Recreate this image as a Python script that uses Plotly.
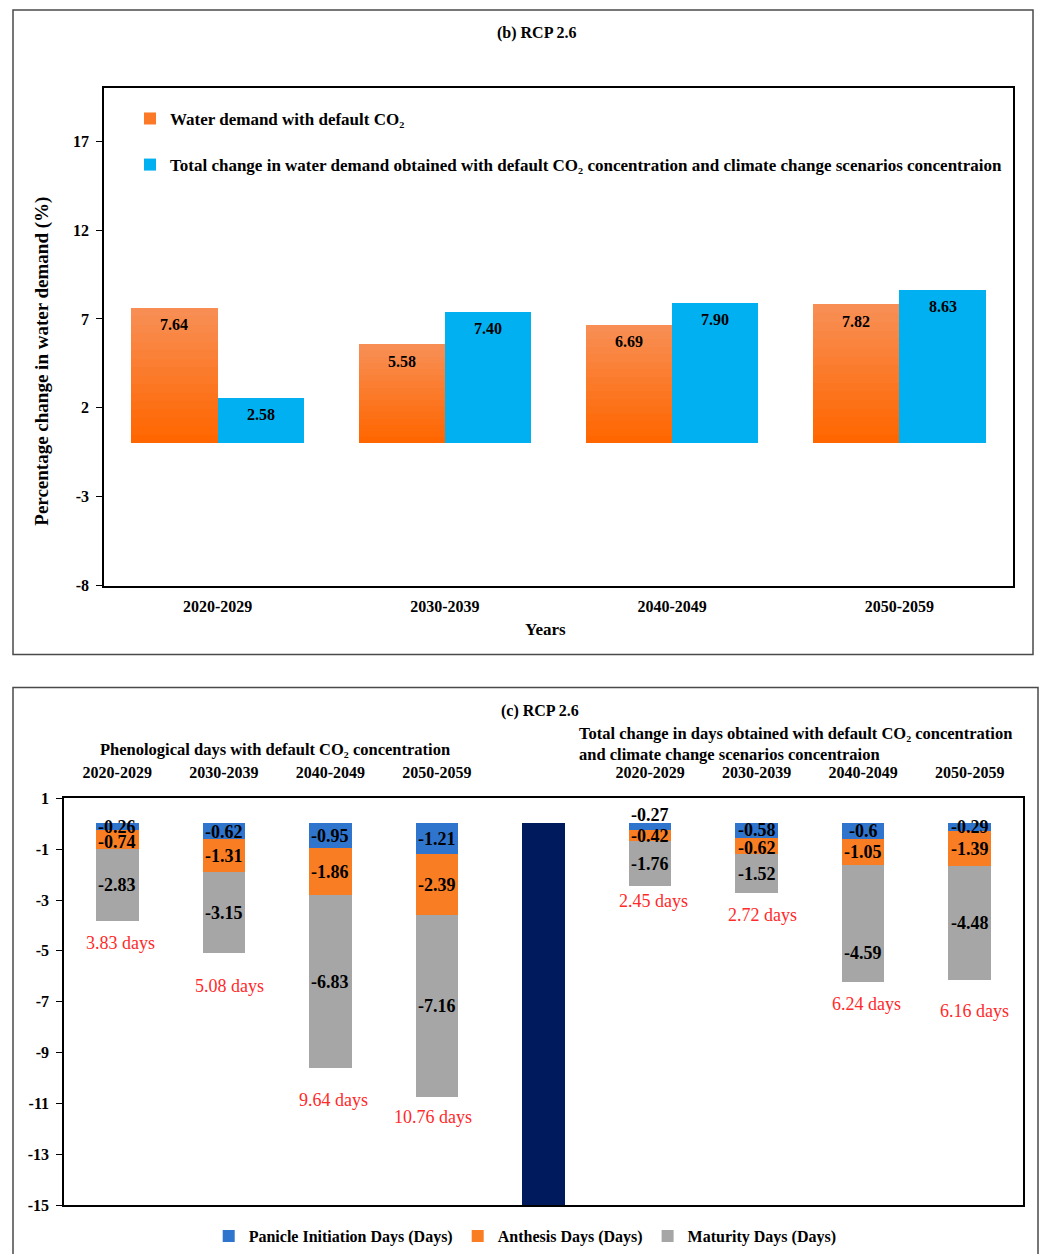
import numpy as np
import plotly.graph_objects as go

# ---------------- data ----------------
periods = ["2020-2029", "2030-2039", "2040-2049", "2050-2059"]

# (b) percentage change in water demand
water_default_co2 = [7.64, 5.58, 6.69, 7.82]
water_total_change = [2.58, 7.40, 7.90, 8.63]
water_ticks = [-8, -3, 2, 7, 12, 17]

# (c) change in phenological days, default CO2 concentration
pheno_panicle = [-0.26, -0.62, -0.95, -1.21]
pheno_anthesis = [-0.74, -1.31, -1.86, -2.39]
pheno_maturity = [-2.83, -3.15, -6.83, -7.16]
# (c) total change, default CO2 + scenario concentration
total_panicle = [-0.27, -0.58, -0.6, -0.29]
total_anthesis = [-0.42, -0.62, -1.05, -1.39]
total_maturity = [-1.76, -1.52, -4.59, -4.48]
separator_depth = -15
days_ticks = [1, -1, -3, -5, -7, -9, -11, -13, -15]

# ---------------- style ----------------
W, H = 1040, 1254
PAGE_TOP, PAGE_H = 8, 1238   # drawable page band in pixels
SERIF = "Liberation Serif"
BLACK = "#000000"
ORANGE_TOP = (248, 142, 84)
ORANGE_BOTTOM = (255, 102, 0)
SKY = "#00B0F0"
C_PANICLE = "#2F74CD"
C_ANTHESIS = "#F97E23"
C_MATURITY = "#A6A6A6"
C_SEPARATOR = "#001A5E"
RED = "#FF2A2A"


def px_x(p):
    return p / W


def px_y(p):
    return 1 - (p - PAGE_TOP) / PAGE_H


# plot areas (paper fractions)
top_dom_x = [px_x(104), px_x(1013)]
top_dom_y = [px_y(586), px_y(88)]
bot_dom_x = [px_x(64), px_x(1023)]
bot_dom_y = [px_y(1206), px_y(799)]

top_range = [-8, 20]
bot_range = [-15, 1]
BAR_W = 0.38

fig = go.Figure()

# ---------- panel (b): grouped bars, orange drawn as a vertical gradient ----------
xb = np.arange(len(periods))
n_steps = 16
for k in range(n_steps):
    t = k / (n_steps - 1)
    col = tuple(int(round(a + (b - a) * t)) for a, b in zip(ORANGE_TOP, ORANGE_BOTTOM))
    frac = 1 - k / n_steps
    fig.add_trace(go.Bar(
        x=xb, y=np.array(water_default_co2) * frac,
        offset=-BAR_W, width=BAR_W,
        marker=dict(color="rgb(%d,%d,%d)" % col, line=dict(width=0)),
        name="Water demand with default CO₂",
        showlegend=(k == n_steps // 2), legendgroup="g1",
        legend="legend", hoverinfo="skip",
        xaxis="x", yaxis="y",
    ))
fig.add_trace(go.Bar(
    x=xb, y=water_total_change, offset=0, width=BAR_W,
    marker=dict(color=SKY, line=dict(width=0)),
    name="Total change in water demand obtained with default CO₂ concentration and climate change scenarios concentraion",
    legendgroup="g2", legend="legend",
    xaxis="x", yaxis="y",
))

annotations = []
# value labels just below the top of each bar
for vals, shift in ((water_default_co2, -BAR_W / 2), (water_total_change, BAR_W / 2)):
    for x, v in zip(xb, vals):
        annotations.append(dict(
            x=x + shift, y=v, xref="x", yref="y", yanchor="middle",
            xanchor="center", yshift=-17, text=f"{v:.2f}", showarrow=False,
            font=dict(family=SERIF, size=16, color=BLACK, weight="bold"),
        ))

# ---------- panel (c): stacked negative bars ----------
xc_left = np.arange(4)
xc_right = np.arange(5, 9)
groups = [
    (xc_left, pheno_panicle, pheno_anthesis, pheno_maturity),
    (xc_right, total_panicle, total_anthesis, total_maturity),
]
seg_names = ["Panicle Initiation Days (Days)", "Anthesis Days (Days)", "Maturity Days (Days)"]
seg_colors = [C_PANICLE, C_ANTHESIS, C_MATURITY]

# per-label pixel nudges (group, segment, bar) -> yshift
label_nudge = {(0, 1, 0): -2, (1, 0, 0): 12, (1, 0, 1): 1, (1, 1, 1): -2,
               (1, 2, 2): -29}
# pixel placement of the red total labels under each bar
total_drop = [[22, 33, 31, 20], [15, 22, 22, 31]]
total_xshift = [[3, 6, 3, -4], [3, 6, 3, 5]]

for gi, (xs, pan, ant, mat) in enumerate(groups):
    segs = [np.array(pan), np.array(ant), np.array(mat)]
    base = np.zeros(len(xs))
    for si, seg in enumerate(segs):
        fig.add_trace(go.Bar(
            x=xs, y=seg, base=base.copy(), width=0.4,
            marker=dict(color=seg_colors[si], line=dict(width=0)),
            name=seg_names[si], legend="legend2", legendgroup=seg_names[si],
            showlegend=(gi == 0),
            xaxis="x2", yaxis="y2",
        ))
        for bi, (x, v, b0) in enumerate(zip(xs, seg, base)):
            annotations.append(dict(
                x=x, y=b0 + v / 2, xref="x2", yref="y2",
                xanchor="center", yanchor="middle",
                text=f"{v:g}", showarrow=False,
                yshift=label_nudge.get((gi, si, bi), 0),
                font=dict(family=SERIF, size=18, color=BLACK, weight="bold"),
            ))
        base = base + seg
    for bi, (x, tot) in enumerate(zip(xs, base)):
        annotations.append(dict(
            x=x, y=tot, xref="x2", yref="y2",
            xanchor="center", yanchor="middle",
            text=f"{-tot:.2f} days", showarrow=False,
            yshift=-total_drop[gi][bi], xshift=total_xshift[gi][bi],
            font=dict(family=SERIF, size=18, color=RED),
        ))

# dark separator between the two groups
fig.add_trace(go.Bar(
    x=[4], y=[separator_depth], width=0.4,
    marker=dict(color=C_SEPARATOR, line=dict(width=0)),
    showlegend=False, hoverinfo="skip",
    xaxis="x2", yaxis="y2",
))

# ---------------- axes ----------------
tick_font = dict(family=SERIF, size=16, color=BLACK, weight="bold")
axis_common = dict(showgrid=False, zeroline=False, showline=True,
                   linecolor=BLACK, linewidth=1.5, mirror=True)


def zero_pos(dom, rng):
    return dom[0] + (0 - rng[0]) / (rng[1] - rng[0]) * (dom[1] - dom[0])


fig.update_layout(
    xaxis=dict(domain=top_dom_x, range=[-0.5, 3.5], anchor="y",
               tickvals=list(xb), ticktext=periods, ticks="",
               tickfont=tick_font, ticklabelstandoff=6, **axis_common),
    yaxis=dict(domain=top_dom_y, range=top_range, anchor="x",
               tickvals=water_ticks, ticktext=[str(v) for v in water_ticks],
               ticks="outside", ticklen=6,
               tickcolor=BLACK, tickfont=tick_font, ticklabelstandoff=4,
               **axis_common),
    xaxis3=dict(overlaying="x", anchor="free",
                position=zero_pos(top_dom_y, top_range),
                range=[-0.5, 3.5], tickvals=[0.5, 1.5, 2.5],
                ticks="outside", ticklen=6, tickwidth=1.5, tickcolor=BLACK,
                showticklabels=False, showgrid=False, zeroline=False,
                showline=True, linecolor=BLACK, linewidth=2),
    xaxis2=dict(domain=bot_dom_x, range=[-0.5, 8.5], anchor="y2", side="top",
                tickvals=list(xc_left) + list(xc_right),
                ticktext=periods + periods, ticks="",
                tickfont=tick_font, ticklabelstandoff=12, **axis_common),
    yaxis2=dict(domain=bot_dom_y, range=bot_range, anchor="x2",
                tickvals=days_ticks, ticktext=[str(v) for v in days_ticks],
                ticks="outside", ticklen=6,
                tickcolor=BLACK, tickfont=tick_font, ticklabelstandoff=4,
                **axis_common),
    xaxis4=dict(overlaying="x2", anchor="free", side="top",
                position=zero_pos(bot_dom_y, bot_range),
                range=[-0.5, 8.5], tickvals=[i + 0.5 for i in range(8)],
                ticks="outside", ticklen=6, tickwidth=1.5, tickcolor=BLACK,
                showticklabels=False, showgrid=False, zeroline=False,
                showline=True, linecolor=BLACK, linewidth=2),
)

# ---------------- text ----------------
bold = dict(family=SERIF, color=BLACK, weight="bold")
centered = dict(xref="paper", yref="paper", xanchor="center", yanchor="middle",
                showarrow=False)
annotations += [
    dict(x=px_x(537), y=px_y(33), text="(b) RCP 2.6",
         font=dict(size=16, **bold), **centered),
    dict(x=px_x(42), y=px_y(362), text="Percentage change in water demand (%)",
         textangle=-90, font=dict(size=19, **bold), **centered),
    dict(x=px_x(545), y=px_y(630), text="Years",
         font=dict(size=17, **bold), **centered),
    dict(x=px_x(540), y=px_y(712), text="(c) RCP 2.6",
         font=dict(size=16, **bold), **centered),
    dict(x=px_x(275), y=px_y(750),
         text="Phenological days with default CO₂ concentration",
         font=dict(size=16.5, **bold), **centered),
    dict(x=px_x(577), y=px_y(745), xref="paper", yref="paper",
         xanchor="left", yanchor="middle", align="left", showarrow=False,
         text="Total change in days obtained with default CO₂ concentration"
              "<br>and climate change scenarios concentraion",
         font=dict(size=16.5, **bold)),
]

shapes = [
    dict(type="rect", xref="paper", yref="paper", layer="below",
         x0=px_x(13), x1=px_x(1033), y0=px_y(655), y1=px_y(10),
         line=dict(color="#4A4A4A", width=1.5)),
    dict(type="rect", xref="paper", yref="paper", layer="below",
         x0=px_x(13), x1=px_x(1038), y0=px_y(1262), y1=px_y(688),
         line=dict(color="#4A4A4A", width=1.5)),
]

fig.update_layout(
    width=W, height=H, autosize=False,
    margin=dict(l=0, r=0, t=0, b=0),
    paper_bgcolor="white", plot_bgcolor="white",
    barmode="overlay", bargap=0,
    annotations=annotations, shapes=shapes,
    legend=dict(x=px_x(130), y=px_y(101), xanchor="left", yanchor="top",
                orientation="v", tracegroupgap=21, bgcolor="rgba(0,0,0,0)",
                font=dict(size=17, **bold), itemclick=False),
    legend2=dict(x=0.505, y=px_y(1237), xanchor="center", yanchor="middle",
                 orientation="h", bgcolor="rgba(0,0,0,0)",
                 font=dict(size=16, **bold), itemclick=False),
)

fig.write_html("out.html")
